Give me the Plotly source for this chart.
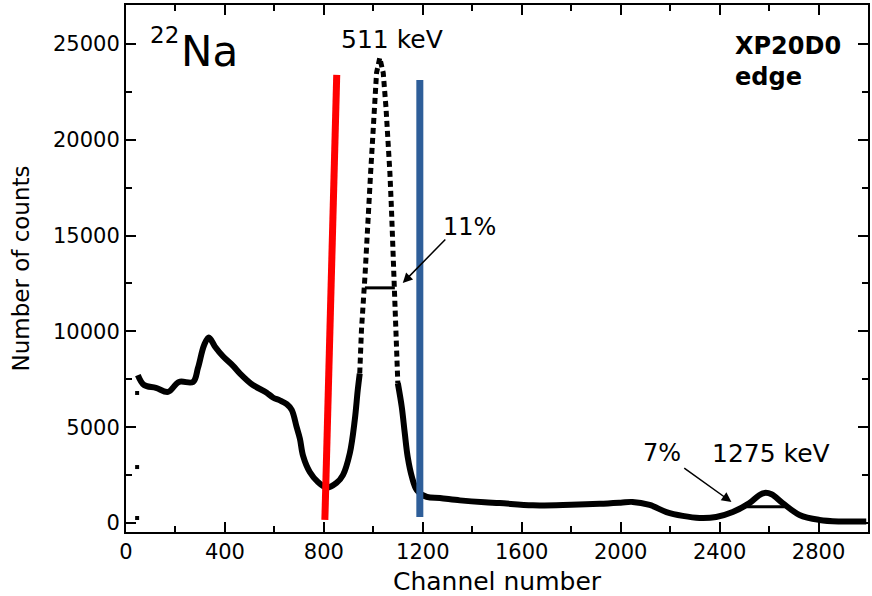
import plotly.graph_objects as go

# ---- data ----
channel = [48, 73, 121, 170, 214, 271, 291, 316, 335, 360, 392, 433, 461, 513, 569, 594, 622, 650,
           670, 690, 703, 716, 743, 776, 811, 851, 877, 905, 925, 937, 945, 952, 967, 973, 978, 989,
           997, 1006, 1013, 1026, 1040, 1051, 1060, 1067, 1073, 1078, 1083, 1087, 1094, 1099, 1115,
           1127, 1139, 1156, 1176, 1216, 1269, 1350, 1450, 1511, 1645, 1800, 1915, 2000, 2048, 2117,
           2185, 2251, 2319, 2386, 2453, 2521, 2560, 2582, 2610, 2655, 2723, 2804, 2885, 2993]
counts = [7720, 7200, 7050, 6840, 7360, 7360, 8090, 9290, 9680, 9200, 8700, 8200, 7800, 7200, 6800,
          6550, 6400, 6200, 5900, 5000, 4400, 3500, 2660, 2140, 1850, 2090, 2500, 3650, 5380, 6940,
          7800, 10070, 13050, 14770, 16490, 18270, 19990, 21710, 23490, 24270, 23490, 21710, 19990,
          18270, 16490, 14770, 13050, 12270, 10070, 7300, 6050, 4700, 3440, 2400, 1720, 1360, 1300,
          1180, 1080, 1040, 920, 950, 1000, 1060, 1100, 940, 570, 370, 260, 310, 570, 1040, 1450,
          1570, 1500, 1040, 420, 160, 80, 80]

stray_ch = [45, 45, 45]
stray_counts = [6785, 2920, 260]

fwhm511_ch = [966, 1087]
fwhm511_y = [12270, 12270]
fwhm1275_ch = [2509, 2663]
fwhm1275_y = [850, 850]

red_ch = [852, 804]
red_y = [23380, 160]
blue_ch = [1188, 1188]
blue_y = [23120, 310]

x_ticks = [0, 400, 800, 1200, 1600, 2000, 2400, 2800]
y_ticks = [0, 5000, 10000, 15000, 20000, 25000]

FONT = "DejaVu Sans"

# split the spectrum: steep part of the 511 keV peak is drawn dotted
lo, hi = 945, 1099
left_x = [c for c in channel if c <= lo]
left_y = [v for c, v in zip(channel, counts) if c <= lo]
mid_x = [c for c in channel if lo <= c <= hi]
mid_y = [v for c, v in zip(channel, counts) if lo <= c <= hi]
right_x = [c for c in channel if c >= hi]
right_y = [v for c, v in zip(channel, counts) if c >= hi]

fig = go.Figure()
solid = dict(color="black", width=6)
fig.add_trace(go.Scatter(x=left_x, y=left_y, mode="lines", line=solid, line_shape="spline"))
fig.add_trace(go.Scatter(x=mid_x, y=mid_y, mode="lines",
                         line=dict(color="black", width=5, dash="6px,4px")))
fig.add_trace(go.Scatter(x=right_x, y=right_y, mode="lines", line=solid, line_shape="spline"))
fig.add_trace(go.Scatter(x=stray_ch, y=stray_counts, mode="markers",
                         marker=dict(symbol="square", size=4, color="black")))
fig.add_trace(go.Scatter(x=fwhm511_ch, y=fwhm511_y, mode="lines", line=dict(color="black", width=3)))
fig.add_trace(go.Scatter(x=fwhm1275_ch, y=fwhm1275_y, mode="lines", line=dict(color="black", width=3)))
fig.add_trace(go.Scatter(x=red_ch, y=red_y, mode="lines", line=dict(color="#FF0000", width=7)))
fig.add_trace(go.Scatter(x=blue_ch, y=blue_y, mode="lines", line=dict(color="#2E5E99", width=7)))

ann = []
def txt(x, y, t, size, xanchor="center", bold=False):
    ann.append(dict(x=x, y=y, xref="x", yref="y", text=f"<b>{t}</b>" if bold else t,
                    showarrow=False, xanchor=xanchor, yanchor="middle",
                    font=dict(family=FONT, size=size, color="black")))

txt(154, 25470, "22", 23)
txt(339, 24580, "Na", 42)
txt(1075, 25210, "511 keV", 25)
txt(1390, 15450, "11%", 24)
txt(2166, 3650, "7%", 24)
txt(2606, 3650, "1275 keV", 25)
txt(2453, 24900, "XP20D0", 24, xanchor="left", bold=True)
txt(2453, 23250, "edge", 24, xanchor="left", bold=True)

for (tx, ty, hx, hy) in [(1297, 14875, 1119, 12526), (2251, 2923, 2448, 1096)]:
    ann.append(dict(x=hx, y=hy, ax=tx, ay=ty, xref="x", yref="y", axref="x", ayref="y",
                    text="", showarrow=True, arrowhead=2, arrowsize=1.3, arrowwidth=1.5,
                    arrowcolor="black"))

axis_common = dict(showgrid=False, zeroline=False, showline=True, linecolor="black", linewidth=2,
                   mirror="allticks", ticks="inside", ticklen=10, tickwidth=2, tickcolor="black",
                   automargin=False,
                   tickfont=dict(family=FONT, size=21, color="black"))

fig.update_layout(
    width=872, height=596,
    margin=dict(l=126, r=4, t=5, b=64),
    paper_bgcolor="white", plot_bgcolor="white",
    showlegend=False,
    annotations=ann,
    xaxis=dict(range=[0, 3000], tickvals=x_ticks, ticktext=[str(v) for v in x_ticks],
               minor=dict(dtick=200, tick0=0, ticks="inside", ticklen=6, tickwidth=2, tickcolor="black"),
               title=dict(text="Channel number", font=dict(family=FONT, size=25, color="black"), standoff=9),
               **axis_common),
    yaxis=dict(range=[-470, 27030], tickvals=y_ticks, ticktext=[str(v) for v in y_ticks],
               minor=dict(dtick=2500, tick0=0, ticks="inside", ticklen=6, tickwidth=2, tickcolor="black"),
               title=dict(text="Number of counts", font=dict(family=FONT, size=23, color="black"), standoff=17),
               **axis_common),
)

fig.write_html("out.html", config={"displayModeBar": False},
               post_script="document.body.style.margin='0';document.body.style.overflow='hidden';")
